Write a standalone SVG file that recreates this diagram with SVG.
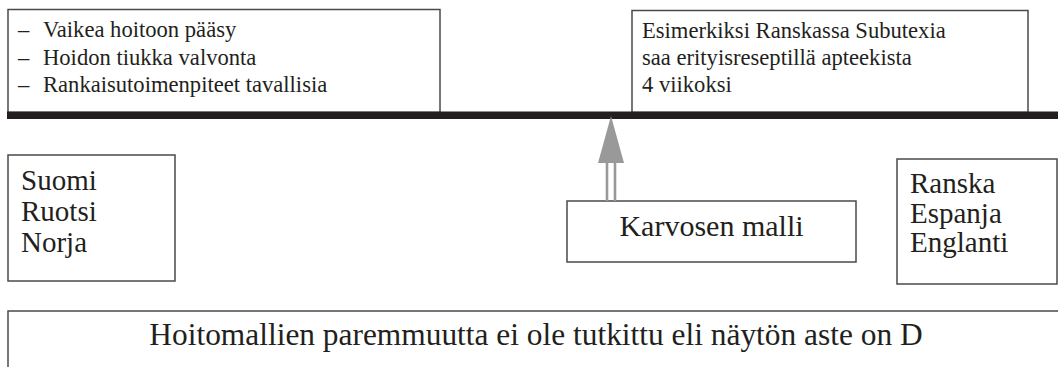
<svg xmlns="http://www.w3.org/2000/svg" width="1058" height="367" viewBox="0 0 1058 367">
<style>
.box{fill:#fff;stroke:#4a4a4a;stroke-width:1.5}
text{font-family:'Liberation Serif','Times New Roman',serif;fill:#231f20}
.s{font-size:22.6px}
.m{font-size:29px}
</style>
<rect width="1058" height="367" fill="#fff"/>
<g id="node-problems">
<rect class="box" x="8" y="9.5" width="432" height="103"/>
<text class="s"><tspan x="18" y="37">–</tspan><tspan x="43" y="37">Vaikea hoitoon pääsy</tspan><tspan x="18" y="65">–</tspan><tspan x="43" y="65">Hoidon tiukka valvonta</tspan><tspan x="18" y="92">–</tspan><tspan x="43" y="92">Rankaisutoimenpiteet tavallisia</tspan></text>
</g>
<g id="node-example">
<rect class="box" x="632" y="10.5" width="396" height="102"/>
<text class="s"><tspan x="642" y="38">Esimerkiksi Ranskassa Subutexia</tspan><tspan x="642" y="65">saa erityisreseptillä apteekista</tspan><tspan x="642" y="92">4 viikoksi</tspan></text>
</g>
<g id="axis">
<rect x="7" y="111.5" width="1051" height="7.5" fill="#231f20"/>
</g>
<g id="node-nordic">
<rect class="box" x="8" y="155" width="167" height="126"/>
<text class="m"><tspan x="21" y="190">Suomi</tspan><tspan x="21" y="221">Ruotsi</tspan><tspan x="21" y="252">Norja</tspan></text>
</g>
<g id="node-karvonen">
<rect class="box" x="567" y="201" width="289" height="61"/>
<text x="711.5" y="236" font-size="30" text-anchor="middle">Karvosen malli</text>
</g>
<g id="node-europe">
<rect class="box" x="897" y="159" width="160" height="125"/>
<text class="m"><tspan x="910" y="193">Ranska</tspan><tspan x="910" y="223">Espanja</tspan><tspan x="910" y="252">Englanti</tspan></text>
</g>
<g id="node-evidence">
<rect class="box" x="8" y="311" width="1060" height="70"/>
<text x="536" y="345" font-size="31.4" text-anchor="middle">Hoitomallien paremmuutta ei ole tutkittu eli näytön aste on D</text>
</g>
<g id="connectors">
<line x1="607" y1="162" x2="607" y2="201" stroke="#999" stroke-width="2.6"/>
<line x1="615" y1="162" x2="615" y2="201" stroke="#999" stroke-width="2.6"/>
<polygon points="611,116 624,163 598,163" fill="#999"/>
</g>
</svg>
